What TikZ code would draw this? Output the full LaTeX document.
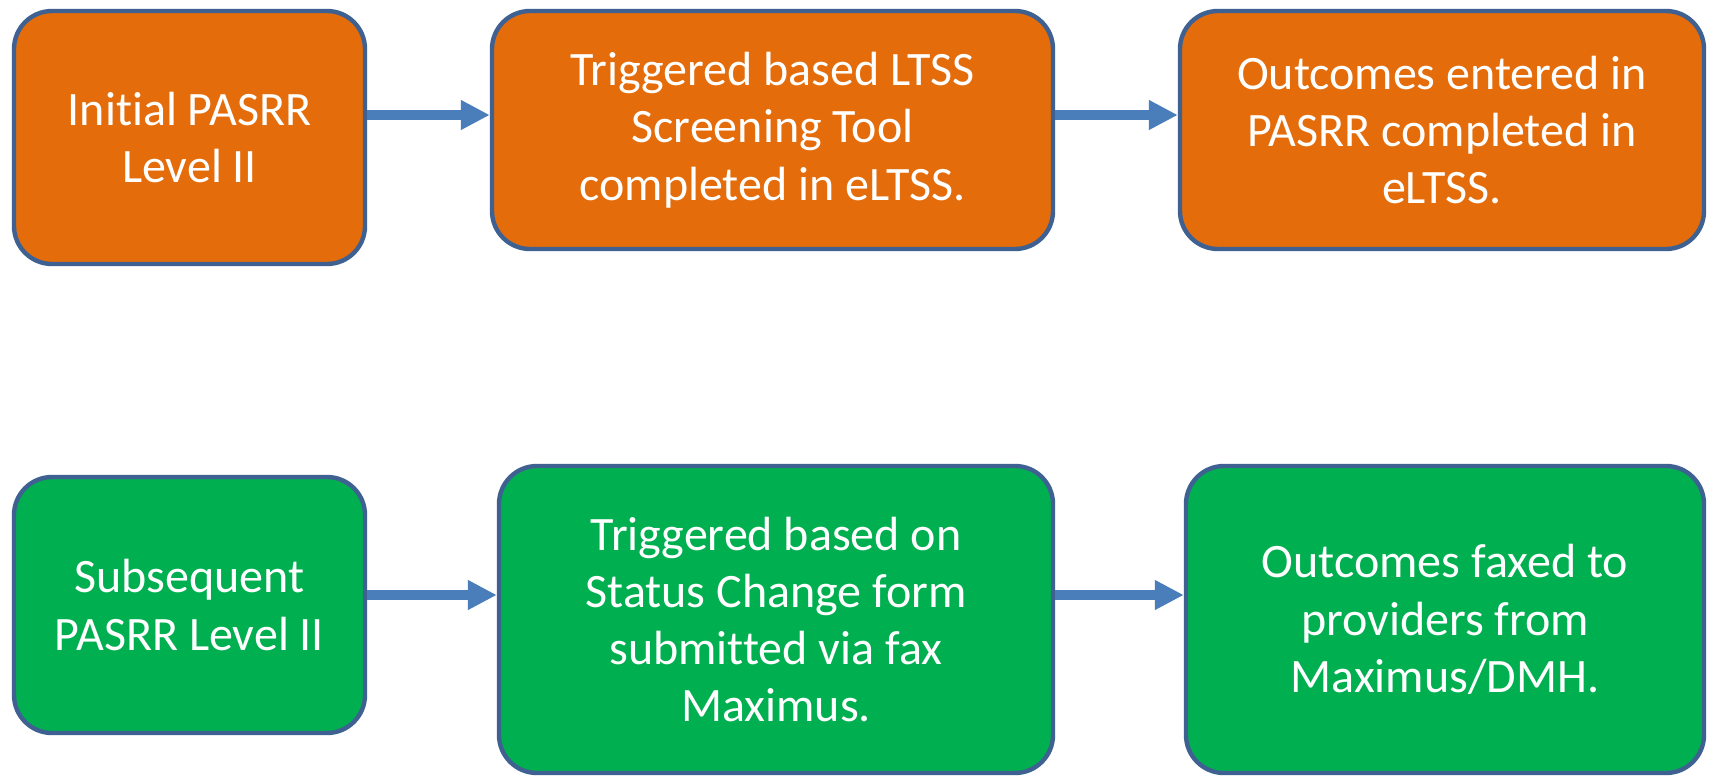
\documentclass[tikz,border=0pt]{standalone}
\usepackage{fontspec}
\setmainfont[Ligatures=NoCommon]{Carlito}
\usetikzlibrary{arrows.meta}
\definecolor{boxorange}{HTML}{E46C0A}
\definecolor{boxgreen}{HTML}{00B050}
\definecolor{boxline}{HTML}{3E6192}
\definecolor{arrowblue}{HTML}{4A7EBB}
\begin{document}
\begin{tikzpicture}[x=0.5pt,y=-0.5pt,
  flowbox/.style={draw=boxline, line width=2.2pt, rounded corners=19pt,
    text=white, align=center, inner sep=0pt,
    font=\fontsize{24pt}{28.6pt}\selectfont},
  orangebox/.style={flowbox, fill=boxorange},
  greenbox/.style={flowbox, fill=boxgreen},
  flowarrow/.style={draw=arrowblue, line width=5pt,
    -{Triangle[length=14.5pt,width=14pt]}}]
\useasboundingbox (0,0) rectangle (1709,777);
\fill[white] (0,0) rectangle (1709,777);

\node[orangebox, minimum width=175.5pt, minimum height=126.5pt] (b1) at (189.5,137.5)
  {Initial PASRR\\Level II};
\node[orangebox, minimum width=280.5pt, minimum height=119pt] (b2) at (772.5,130)
  {Triggered based LTSS\\Screening Tool\\completed in eLTSS.};
\node[orangebox, minimum width=262pt, minimum height=119pt] (b3) at (1442,130)
  {Outcomes entered in\\PASRR completed in\\eLTSS.};

\node[greenbox, minimum width=175.5pt, minimum height=128pt] (b4) at (189.5,605)
  {Subsequent\\PASRR Level II};
\node[greenbox, minimum width=277pt, minimum height=153.5pt] (b5) at (776,619.5)
  {Triggered based on\\Status Change form\\submitted via fax\\Maximus.};
\node[greenbox, minimum width=259pt, minimum height=153.5pt] (b6) at (1445,619.5)
  {Outcomes faxed to\\providers from\\Maximus/DMH.};

\coordinate (ytop) at (0,115);
\coordinate (ybot) at (0,595);

\draw[flowarrow] (b1.east |- ytop) -- (b2.west |- ytop);
\draw[flowarrow] (b2.east |- ytop) -- (b3.west |- ytop);
\draw[flowarrow] (b4.east |- ybot) -- (b5.west |- ybot);
\draw[flowarrow] (b5.east |- ybot) -- (b6.west |- ybot);
\end{tikzpicture}
\end{document}
